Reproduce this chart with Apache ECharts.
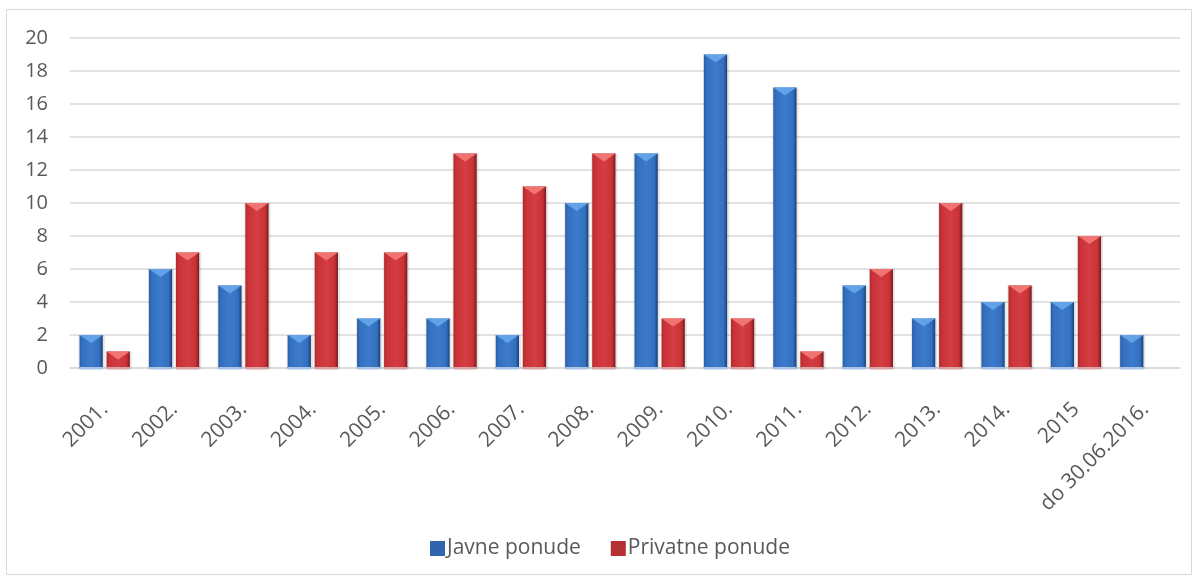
<!DOCTYPE html>
<html><head><meta charset="utf-8">
<script src="https://cdn.jsdelivr.net/npm/echarts@6/dist/echarts.min.js"></script>
<style>html,body{margin:0;padding:0;background:#fff}#c{width:1198px;height:578px}</style>
</head><body><div id="c"></div>
<script>
var categories = ['2001.','2002.','2003.','2004.','2005.','2006.','2007.','2008.','2009.','2010.','2011.','2012.','2013.','2014.','2015','do 30.06.2016.'];
var javne = [2,6,5,2,3,3,2,10,13,19,17,5,3,4,4,2];
var privatne = [1,7,10,7,7,13,11,13,3,3,1,6,10,5,8,null];
var yTicks = {min:0, max:20, interval:2};

var palettes = [
  {edge:'#1b3f72', dark:'#2a5da6', mid:'#3470c0', light:'#3c7acb', bevel:'#62a2e6', base:'#a9c4e6'},
  {edge:'#761a1d', dark:'#b02a2e', mid:'#c93236', light:'#d43d41', bevel:'#f07472', base:'#d9a3a5'}
];

function makeRender(si){
  return function(params, api){
    var v = api.value(1);
    if (v === null || v === undefined || isNaN(v)) return;
    var idx = api.value(0);
    var top = api.coord([idx, v]);
    var bot = api.coord([idx, 0]);
    var band = api.size([1,0])[0];
    var bw = band*0.335, gap = band*0.055;
    var cx = top[0] + (si===0 ? -(bw/2+gap/2) : (bw/2+gap/2));
    var x0 = cx - bw/2, y0 = top[1], h = bot[1]-top[1];
    var p = palettes[si];
    var bev = Math.min(8, h);
    var grad = new echarts.graphic.LinearGradient(0,0,1,0,[
      {offset:0,color:p.dark},{offset:0.12,color:p.mid},{offset:0.5,color:p.light},{offset:0.85,color:p.mid},{offset:1,color:p.edge}]);
    return {type:'group', children:[
      {type:'rect', shape:{x:x0-1,y:y0,width:bw+3,height:h+1}, style:{fill:'rgba(0,0,0,0.10)'}},
      {type:'rect', shape:{x:x0,y:y0,width:bw,height:h}, style:{fill:grad}},
      {type:'polygon', shape:{points:[[x0,y0],[x0+bw,y0],[cx,y0+bev]]}, style:{fill:p.bevel}},
      {type:'rect', shape:{x:x0,y:bot[1]-1,width:bw,height:2.5}, style:{fill:p.base}}
    ]};
  };
}

var chart = echarts.init(document.getElementById('c'), null, {renderer:'canvas'});
chart.setOption({
  animation:false,
  backgroundColor:'#fff',
  textStyle:{fontFamily:'"Open Sans", "Liberation Sans", sans-serif'},
  graphic:[{type:'rect', shape:{x:6.5,y:9.5,width:1185,height:565}, style:{fill:null, stroke:'#d9d9d9', lineWidth:1}, silent:true}],
  grid:{left:70, right:18, top:38, bottom:210, containLabel:false},
  legend:{
    bottom:14, left:425, itemWidth:15, itemHeight:15, itemGap:30,
    textStyle:{color:'#595959', fontSize:21, padding:[0,0,0,-3]},
    data:[{name:'Javne ponude', icon:'rect', itemStyle:{color:'#2f64ae'}},
          {name:'Privatne ponude', icon:'rect', itemStyle:{color:'#b53033'}}]
  },
  xAxis:{
    type:'category', data:categories,
    axisLine:{show:true, lineStyle:{color:'#d9d9d9', width:1.5}},
    axisTick:{show:false},
    axisLabel:{rotate:45, color:'#595959', fontSize:21, margin:38, interval:0, padding:[0,0,0,0]}
  },
  yAxis:{
    type:'value', min:yTicks.min, max:yTicks.max, interval:yTicks.interval,
    axisLine:{show:false}, axisTick:{show:false},
    axisLabel:{color:'#595959', fontSize:20, margin:22},
    splitLine:{lineStyle:{color:'#d9d9d9', width:1.5}}
  },
  series:[
    {name:'Javne ponude', type:'custom', renderItem:makeRender(0), itemStyle:{color:'#2f64ae'},
     encode:{x:0,y:1}, data:javne.map(function(v,i){return [i,v];})},
    {name:'Privatne ponude', type:'custom', renderItem:makeRender(1), itemStyle:{color:'#b53033'},
     encode:{x:0,y:1}, data:privatne.map(function(v,i){return [i,v===null?'-':v];})}
  ]
});
</script></body></html>
